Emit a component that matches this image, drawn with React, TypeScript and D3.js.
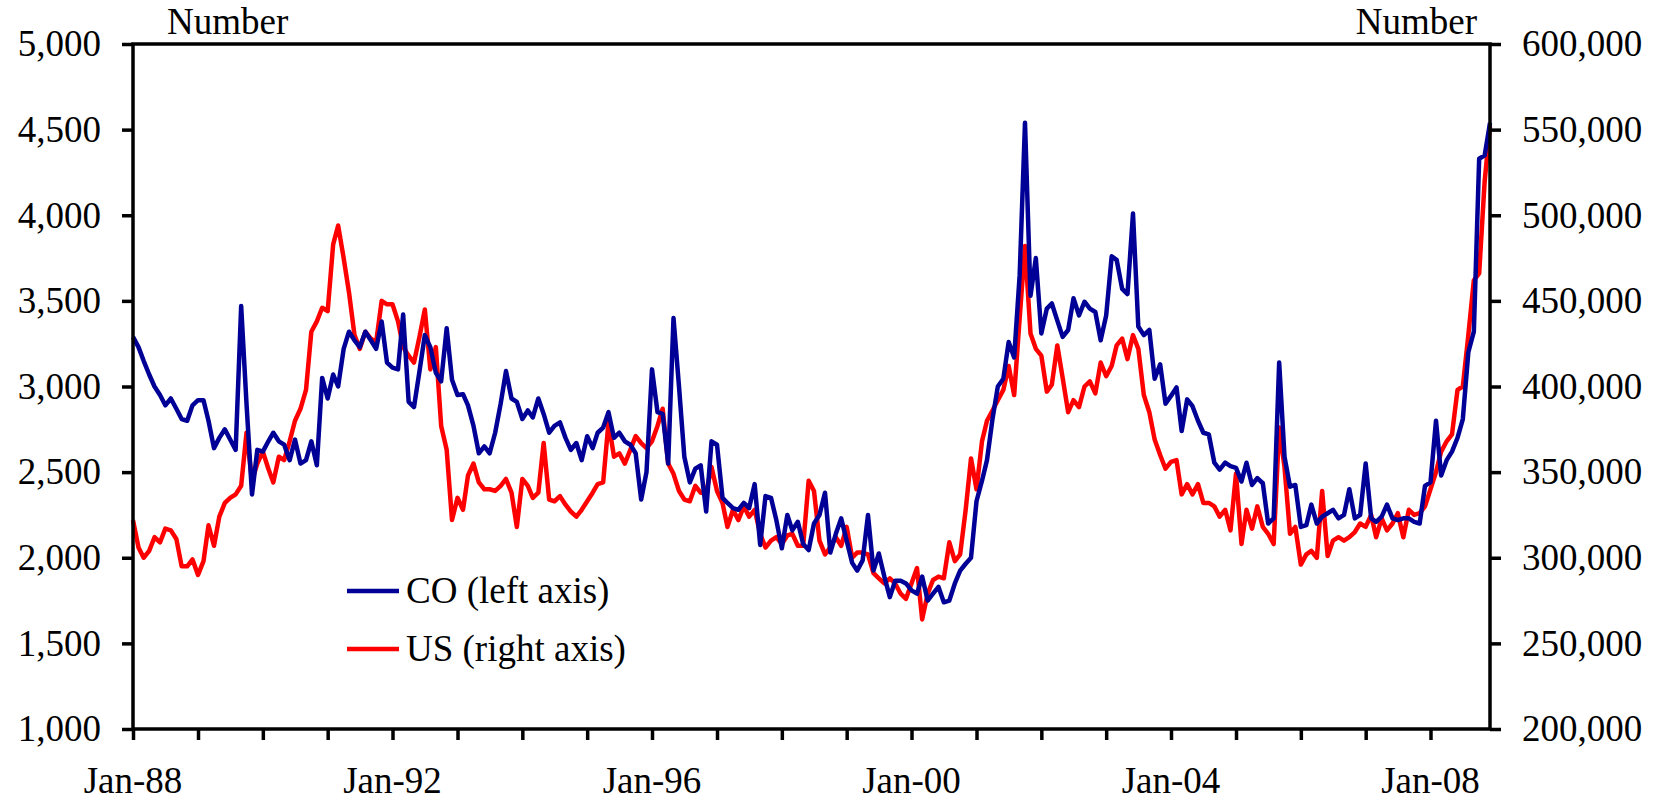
import React, { useRef, useEffect } from 'react';
import * as d3 from 'd3';

// monthly observations, Jan-88 .. Dec-08
const firstMonth = new Date(1988, 0, 1);
const lastMonth = new Date(2008, 11, 1);
const months = d3.timeMonth.range(firstMonth, d3.timeMonth.offset(lastMonth, 1));

// CO, left axis
const coValues = [
  3290, 3230, 3150, 3070, 3000, 2950, 2890, 2930, 2870, 2810, 2800, 2890, // 1988
  2920, 2920, 2800, 2640, 2700, 2750, 2690, 2630, 3470, 2900, 2370, 2630, // 1989
  2620, 2680, 2730, 2680, 2660, 2570, 2690, 2550, 2570, 2680, 2540, 3050, // 1990
  2930, 3070, 3000, 3220, 3320, 3270, 3230, 3320, 3270, 3220, 3380, 3140, // 1991
  3110, 3100, 3420, 2910, 2880, 3090, 3300, 3230, 3080, 3030, 3340, 3040, // 1992
  2950, 2955, 2890, 2770, 2610, 2650, 2610, 2730, 2900, 3090, 2930, 2910, // 1993
  2810, 2860, 2820, 2930, 2840, 2730, 2770, 2790, 2700, 2630, 2670, 2570, // 1994
  2710, 2640, 2730, 2760, 2850, 2700, 2730, 2680, 2660, 2610, 2340, 2500, // 1995
  3100, 2850, 2840, 2550, 3400, 3000, 2590, 2440, 2520, 2540, 2270, 2680, // 1996
  2660, 2350, 2320, 2290, 2280, 2320, 2290, 2430, 2075, 2360, 2350, 2220, // 1997
  2055, 2250, 2160, 2210, 2080, 2045, 2200, 2250, 2380, 2030, 2140, 2230, // 1998
  2100, 1970, 1925, 1985, 2250, 1925, 2025, 1890, 1770, 1866, 1866, 1850, // 1999
  1810, 1790, 1890, 1750, 1790, 1830, 1740, 1750, 1850, 1925, 1965, 2000, // 2000
  2330, 2450, 2570, 2810, 3000, 3045, 3260, 3170, 3650, 4540, 3530, 3750, // 2001
  3310, 3455, 3485, 3385, 3290, 3330, 3515, 3415, 3495, 3455, 3435, 3270, // 2002
  3415, 3760, 3740, 3570, 3540, 4010, 3350, 3300, 3330, 3045, 3130, 2900, // 2003
  2945, 2995, 2740, 2925, 2885, 2800, 2730, 2720, 2555, 2515, 2555, 2535, // 2004
  2525, 2445, 2555, 2425, 2465, 2435, 2200, 2230, 3140, 2590, 2415, 2425, // 2005
  2180, 2190, 2310, 2200, 2240, 2260, 2280, 2230, 2250, 2400, 2230, 2250, // 2006
  2550, 2230, 2210, 2240, 2310, 2230, 2220, 2230, 2230, 2210, 2200, 2420, // 2007
  2440, 2800, 2480, 2570, 2620, 2700, 2810, 3200, 3320, 4330, 4350, 4540, // 2008
];

// US, right axis, in thousands
const usThousands = [
  322, 306, 300, 304, 312, 309, 317, 316, 311, 295, 295, 299, // 1988
  290, 298, 319, 307, 324, 332, 335, 337, 342, 373, 345, 355, // 1989
  362, 352, 344, 359, 357, 368, 380, 387, 398, 432, 438, 446, // 1990
  444, 483, 494, 475, 455, 430, 422, 432, 428, 426, 450, 448, // 1991
  448, 438, 423, 418, 414, 429, 445, 410, 423, 377, 363, 322, // 1992
  335, 328, 348, 355, 344, 340, 340, 339, 342, 346, 338, 318, // 1993
  346, 342, 335, 338, 367, 334, 333, 336, 331, 327, 324, 328, // 1994
  333, 338, 343, 344, 379, 359, 361, 355, 363, 371, 367, 364, // 1995
  368, 377, 387, 355, 349, 339, 334, 333, 342, 338, 338, 353, // 1996
  339, 332, 318, 328, 322, 330, 324, 328, 314, 306, 310, 312, // 1997
  308, 313, 314, 307, 307, 345, 339, 310, 302, 306, 312, 307, // 1998
  318, 300, 303, 303, 302, 291, 288, 285, 288, 285, 279, 276, // 1999
  285, 294, 264, 279, 287, 289, 288, 309, 298, 302, 328, 358, // 2000
  340, 368, 380, 386, 392, 398, 412, 395, 440, 482, 431, 422, // 2001
  418, 397, 401, 424, 405, 385, 392, 388, 400, 403, 396, 414, // 2002
  406, 412, 424, 428, 416, 430, 422, 395, 385, 369, 360, 352, // 2003
  356, 357, 337, 343, 337, 343, 332, 332, 330, 324, 328, 316, // 2004
  349, 308, 328, 317, 330, 318, 314, 308, 376, 353, 314, 318, // 2005
  296, 302, 304, 300, 339, 301, 310, 312, 310, 312, 315, 320, // 2006
  318, 325, 312, 323, 316, 320, 326, 312, 328, 325, 326, 330, // 2007
  340, 350, 362, 368, 372, 398, 400, 430, 462, 466, 520, 552, // 2008
];

const leftTicks = [1000, 1500, 2000, 2500, 3000, 3500, 4000, 4500, 5000];
const rightTicks = [200000, 250000, 300000, 350000, 400000, 450000, 500000, 550000, 600000];
const labelYears = [1988, 1992, 1996, 2000, 2004, 2008];
const seriesNames = ['CO (left axis)', 'US (right axis)'];
const seriesColors = ['#000096', '#ff0000'];

type Point = { date: Date; value: number };

const FONT = "'Liberation Serif', 'Times New Roman', serif";

const App: React.FC = () => {
  const svgRef = useRef<SVGSVGElement>(null);

  useEffect(() => {
    const root = d3.select(svgRef.current);
    root.selectAll('*').remove();

    const W = 1656;
    const H = 804;
    const margin = { top: 44, right: 166, bottom: 75, left: 133 };
    const width = W - margin.left - margin.right;
    const height = H - margin.top - margin.bottom;

    const svg = root
      .attr('width', W)
      .attr('height', H)
      .append('g')
      .attr('transform', `translate(${margin.left},${margin.top})`);

    const xScale = d3.scaleTime().domain([firstMonth, lastMonth]).range([0, width]);
    const yLeft = d3.scaleLinear().domain([1000, 5000]).range([height, 0]);
    const yRight = d3.scaleLinear().domain([200000, 600000]).range([height, 0]);

    const coData: Point[] = months.map((d, i) => ({ date: d, value: coValues[i] }));
    const usData: Point[] = months.map((d, i) => ({ date: d, value: usThousands[i] * 1000 }));

    const fmt = d3.format(',');

    // lines
    const coLine = d3.line<Point>().x(d => xScale(d.date)).y(d => yLeft(d.value));
    const usLine = d3.line<Point>().x(d => xScale(d.date)).y(d => yRight(d.value));

    svg.append('path')
      .datum(usData)
      .attr('fill', 'none')
      .attr('stroke', seriesColors[1])
      .attr('stroke-width', 4.5)
      .attr('stroke-linejoin', 'round')
      .attr('d', usLine);

    svg.append('path')
      .datum(coData)
      .attr('fill', 'none')
      .attr('stroke', seriesColors[0])
      .attr('stroke-width', 4.5)
      .attr('stroke-linejoin', 'round')
      .attr('d', coLine);

    // frame
    svg.append('rect')
      .attr('width', width)
      .attr('height', height)
      .attr('fill', 'none')
      .attr('stroke', 'black')
      .attr('stroke-width', 3.5);

    const styleAxis = (g: d3.Selection<SVGGElement, unknown, null, undefined>) => {
      g.select('.domain').remove();
      g.selectAll('line').attr('stroke', 'black').attr('stroke-width', 3.5);
      g.selectAll('text')
        .attr('font-family', FONT)
        .attr('font-size', 37)
        .attr('fill', 'black');
    };

    svg.append('g')
      .call(d3.axisLeft(yLeft).tickValues(leftTicks).tickSize(11).tickPadding(21).tickFormat(d => fmt(+d)))
      .call(styleAxis);

    svg.append('g')
      .attr('transform', `translate(${width},0)`)
      .call(d3.axisRight(yRight).tickValues(rightTicks).tickSize(11).tickPadding(21).tickFormat(d => fmt(+d)))
      .call(styleAxis);

    const yearTicks = d3.timeYear.range(firstMonth, new Date(2009, 0, 1));
    svg.append('g')
      .attr('transform', `translate(0,${height})`)
      .call(d3.axisBottom(xScale).tickValues(yearTicks).tickSize(11).tickFormat(() => ''))
      .call(styleAxis);

    svg.append('g')
      .selectAll('text')
      .data(labelYears.map(y => new Date(y, 0, 1)))
      .join('text')
      .attr('x', d => xScale(d))
      .attr('y', height + 64)
      .attr('text-anchor', 'middle')
      .attr('font-family', FONT)
      .attr('font-size', 37)
      .text(d => d3.timeFormat('%b-%y')(d));

    // unit labels
    svg.append('text')
      .attr('x', 34)
      .attr('y', -10)
      .attr('font-family', FONT)
      .attr('font-size', 37)
      .text('Number');

    svg.append('text')
      .attr('x', width - 13)
      .attr('y', -10)
      .attr('text-anchor', 'end')
      .attr('font-family', FONT)
      .attr('font-size', 37)
      .text('Number');

    // legend
    const legend = svg.append('g').attr('transform', `translate(214, 547)`);
    legend.selectAll('line')
      .data(seriesNames)
      .join('line')
      .attr('x1', 0)
      .attr('x2', 52)
      .attr('y1', (d, i) => i * 58)
      .attr('y2', (d, i) => i * 58)
      .attr('stroke', (d, i) => seriesColors[i])
      .attr('stroke-width', 4.5);

    legend.selectAll('text')
      .data(seriesNames)
      .join('text')
      .attr('x', 59)
      .attr('y', (d, i) => i * 58 + 12)
      .attr('font-family', FONT)
      .attr('font-size', 37)
      .text(d => d);
  }, []);

  return (
    <div style={{ position: 'absolute', left: 0, top: 0 }}>
      <svg ref={svgRef} />
    </div>
  );
};

export default App;
